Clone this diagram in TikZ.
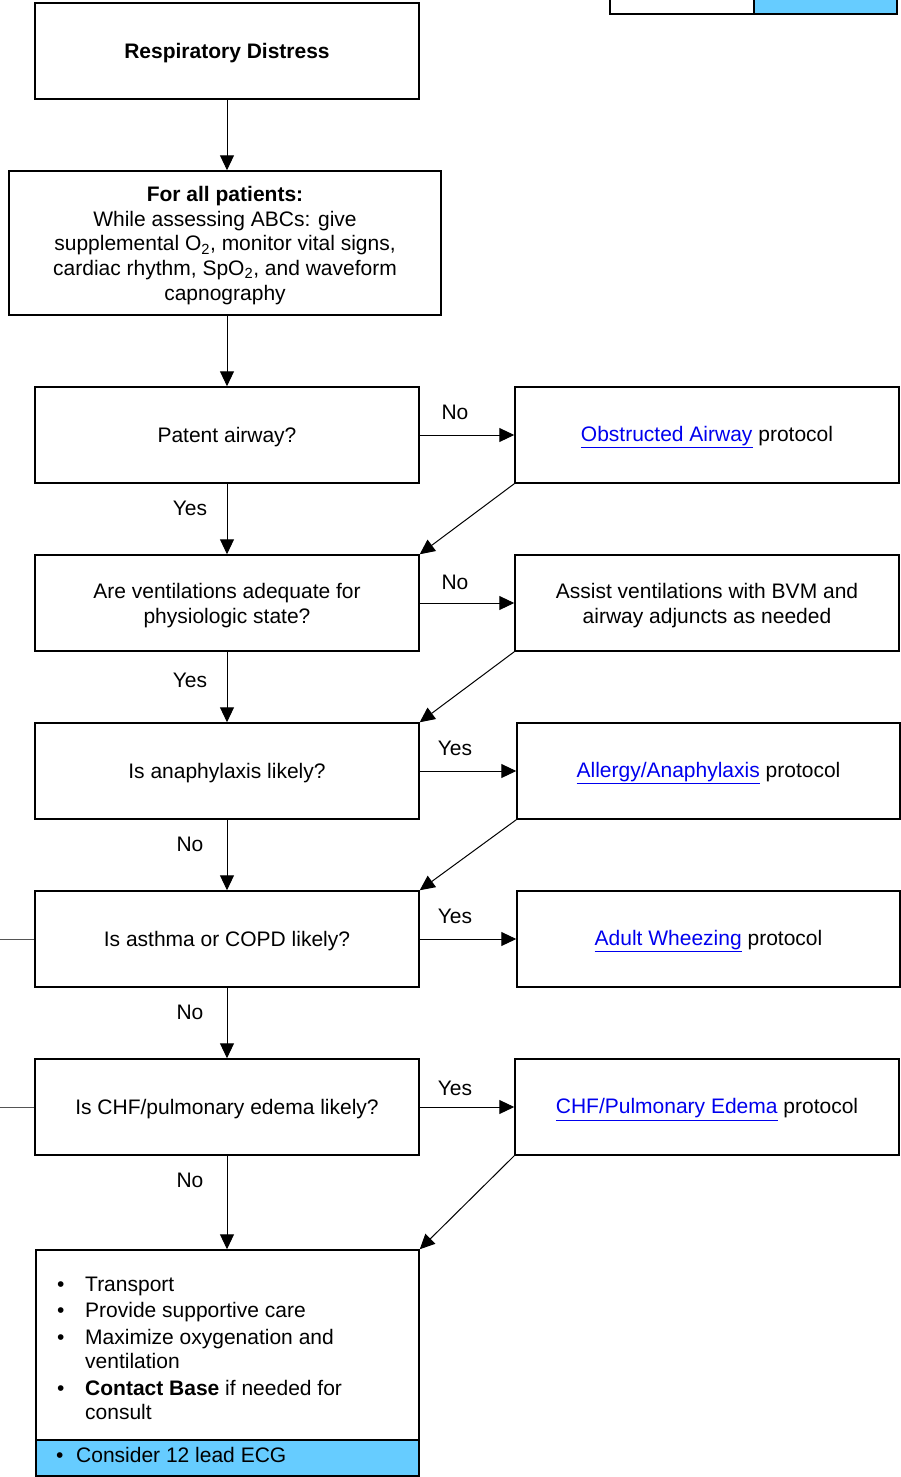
\documentclass[tikz,border=0pt]{standalone}
\usepackage{fontspec}
\setmainfont{Liberation Sans}
\usetikzlibrary{arrows.meta}
\definecolor{skyb}{HTML}{66CCFF}
\definecolor{linkb}{HTML}{0000EE}
\definecolor{greyline}{HTML}{555555}
\newcommand{\lnk}[1]{\textcolor{linkb}{\underline{#1}}}
\tikzset{
  box/.style={draw, line width=1.5pt, minimum width=384pt, minimum height=96pt, inner sep=0pt},
  txt/.style={align=center, inner sep=0pt, yshift=-2.5pt, font=\fontsize{21}{24.75}\selectfont},
  conn/.style={line width=1pt, -{Triangle[length=15pt,width=14pt]}},
  lbl/.style={font=\fontsize{21}{24.5}\selectfont, inner sep=0pt},
  itm/.style={font=\fontsize{21}{24.5}\selectfont, inner sep=0pt, anchor=base west},
}
\begin{document}
\begin{tikzpicture}[x=1pt,y=-1pt]
\clip (0,0) rectangle (901,1477);
\fill[white] (0,0) rectangle (901,1477);
% top-right fragments
\node[draw, line width=1.5pt, fill=white, minimum width=144pt, minimum height=40pt, inner sep=0pt] (tl) at (682,-6) {};
\node[draw, line width=1.5pt, fill=skyb, minimum width=143pt, minimum height=40pt, inner sep=0pt] (tr) at (825.5,-6) {};
% main column
\node[box] (resp) at (227,51) {};
\node[txt, font=\bfseries\fontsize{21}{24.5}\selectfont] (respT) at (resp.center) {Respiratory Distress};
\node[box, minimum width=432pt, minimum height=144pt] (all) at (225,243) {};
\node[txt] (allT) at (all.center) {\textbf{For all patients:}\\While assessing ABCs: give\\supplemental O\textsubscript{2}, monitor vital signs,\\cardiac rhythm, SpO\textsubscript{2}, and waveform\\capnography};
\node[box] (pat) at (227,435) {};
\node[txt] (patT) at (pat.center) {Patent airway?};
\node[box] (vent) at (227,603) {};
\node[txt] (ventT) at (vent.center) {Are ventilations adequate for\\physiologic state?};
\node[box] (ana) at (227,771) {};
\node[txt] (anaT) at (ana.center) {Is anaphylaxis likely?};
\node[box] (ast) at (227,939) {};
\node[txt] (astT) at (ast.center) {Is asthma or COPD likely?};
\node[box] (chf) at (227,1107) {};
\node[txt] (chfT) at (chf.center) {Is CHF/pulmonary edema likely?};
% right column
\node[box] (obs) at (707,435) {};
\node[txt] (obsT) at (obs.center) {\lnk{Obstructed Airway} protocol};
\node[box] (bvm) at (707,603) {};
\node[txt] (bvmT) at (bvm.center) {Assist ventilations with BVM and\\airway adjuncts as needed};
\node[box, minimum width=383pt] (all2) at (708.5,771) {};
\node[txt] (all2T) at (all2.center) {\lnk{Allergy/Anaphylaxis} protocol};
\node[box, minimum width=383pt] (whz) at (708.5,939) {};
\node[txt] (whzT) at (whz.center) {\lnk{Adult Wheezing} protocol};
\node[box] (chfp) at (707,1107) {};
\node[txt] (chfpT) at (chfp.center) {\lnk{CHF/Pulmonary Edema} protocol};
% final box
\node[draw, line width=1.5pt, minimum width=383pt, minimum height=190pt, inner sep=0pt] (fin) at (227.5,1345) {};
\node[draw, line width=1.5pt, fill=skyb, minimum width=383pt, minimum height=36pt, inner sep=0pt] (ecg) at (227.5,1458) {};
\node[itm] (b1) at (57,1291) {\textbullet};
\node[itm] (i1) at (85,1291) {Transport};
\node[itm] (b2) at (57,1317) {\textbullet};
\node[itm] (i2) at (85,1317) {Provide supportive care};
\node[itm] (b3) at (57,1344) {\textbullet};
\node[itm] (i3) at (85,1344) {Maximize oxygenation and};
\node[itm] (i3b) at (85,1368) {ventilation};
\node[itm] (b4) at (57,1395) {\textbullet};
\node[itm] (i4) at (85,1395) {\textbf{Contact Base} if needed for};
\node[itm] (i4b) at (85,1419) {consult};
\node[itm] (b5) at (56,1462) {\textbullet};
\node[itm] (i5) at (76,1462) {Consider 12 lead ECG};
% connectors
\draw[conn] (resp.south) -- (resp.south |- all.north);
\draw[conn] (resp.south |- all.south) -- (pat.north);
\draw[conn] (pat.south) -- (vent.north);
\draw[conn] (vent.south) -- (ana.north);
\draw[conn] (ana.south) -- (ast.north);
\draw[conn] (ast.south) -- (chf.north);
\draw[conn] (chf.south) -- (chf.south |- fin.north);
\draw[conn] (pat.east) -- (obs.west);
\draw[conn] (vent.east) -- (bvm.west);
\draw[conn] (ana.east) -- (all2.west);
\draw[conn] (ast.east) -- (whz.west);
\draw[conn] (chf.east) -- (chfp.west);
\draw[conn] (obs.south west) -- (vent.north east);
\draw[conn] (bvm.south west) -- (ana.north east);
\draw[conn] (all2.south west) -- (ast.north east);
\draw[conn] (chfp.south west) -- (fin.north east);
% left stubs
\coordinate (s1) at (0,939);
\coordinate (s2) at (0,1107);
\draw[greyline, line width=1pt] (s1) -- (ast.west);
\draw[greyline, line width=1pt] (s2) -- (chf.west);
% labels
\node[lbl] (l1) at (455,412) {No};
\node[lbl] (l2) at (190,508) {Yes};
\node[lbl] (l3) at (455,582) {No};
\node[lbl] (l4) at (190,680) {Yes};
\node[lbl] (l5) at (455,748) {Yes};
\node[lbl] (l6) at (190,844) {No};
\node[lbl] (l7) at (455,916) {Yes};
\node[lbl] (l8) at (190,1012) {No};
\node[lbl] (l9) at (455,1088) {Yes};
\node[lbl] (l10) at (190,1180) {No};
\end{tikzpicture}
\end{document}
